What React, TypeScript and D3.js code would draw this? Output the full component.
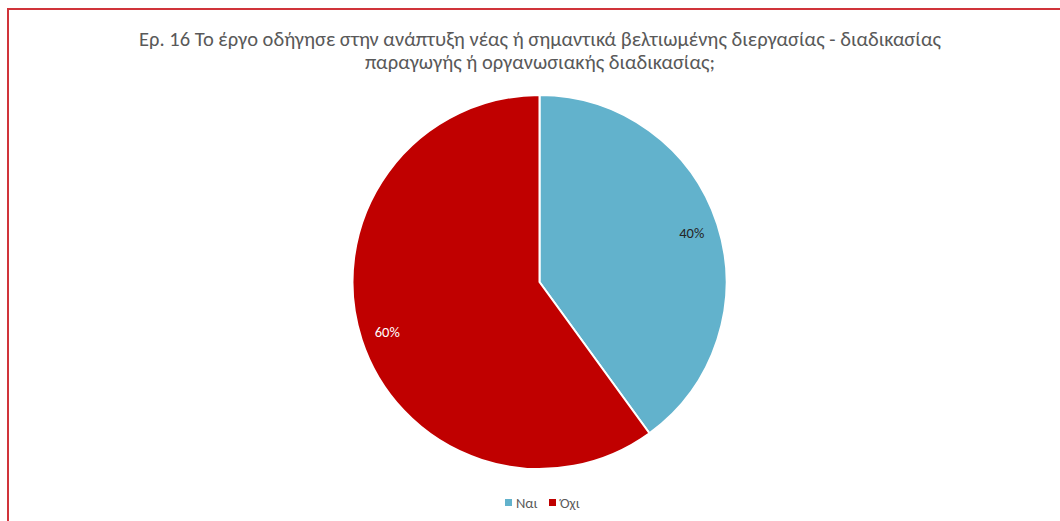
import React from "react";
import * as d3 from "d3";

const categories = ["Ναι", "Όχι"];
const values = [40, 60];
const colors = ["#62b2cc", "#c00000"];
const labelColors = ["#262626", "#ffffff"];
const titleLines = [
  "Ερ. 16 Το έργο οδήγησε στην ανάπτυξη νέας ή σημαντικά βελτιωμένης διεργασίας - διαδικασίας",
  "παραγωγής ή οργανωσιακής διαδικασίας;",
];

const W = 1060;
const H = 521;
const font = "Carlito, Calibri, 'Open Sans', 'Noto Sans', sans-serif";

export default function App() {
  const cx = 539.5;
  const cy = 282;
  const r = 187;
  const pie = d3.pie<number>().sort(null).value((d) => d);
  const arcs = pie(values);
  const arc = d3.arc<d3.PieArcDatum<number>>().innerRadius(0).outerRadius(r);
  const labelArc = d3.arc<d3.PieArcDatum<number>>().innerRadius(r * 0.856).outerRadius(r * 0.856);
  const total = d3.sum(values);

  return (
    <svg
      width={W}
      height={H}
      style={{ position: "absolute", left: 0, top: 0, fontFamily: font }}
    >
      <rect x={0} y={0} width={W} height={H} fill="#fff" />
      <rect x={8} y={9} width={W + 20} height={H + 20} fill="#fff" stroke="#d0343a" strokeWidth={2} />
      {titleLines.map((t, i) => (
        <text
          key={i}
          x={540}
          y={45.5 + i * 23.5}
          textAnchor="middle"
          fontSize={20.5}
          fill="#595959"
        >
          {t}
        </text>
      ))}
      <g transform={`translate(${cx},${cy})`}>
        {arcs.map((a, i) => (
          <path key={i} d={arc(a) || ""} fill={colors[i]} stroke="#fff" strokeWidth={2} />
        ))}
        {arcs.map((a, i) => {
          const [x, y] = labelArc.centroid(a);
          return (
            <text
              key={i}
              x={x}
              y={y}
              dy="0.35em"
              textAnchor="middle"
              fontSize={14.5}
              fill={labelColors[i]}
            >
              {`${Math.round((values[i] / total) * 100)}%`}
            </text>
          );
        })}
      </g>
      <g>
        {categories.map((c, i) => {
          const x0 = i === 0 ? 505 : 549;
          return (
            <g key={c}>
              <rect x={x0} y={499} width={7} height={7} fill={colors[i]} />
              <text x={x0 + 11} y={507.5} fontSize={14.5} fill="#595959">
                {c}
              </text>
            </g>
          );
        })}
      </g>
    </svg>
  );
}
